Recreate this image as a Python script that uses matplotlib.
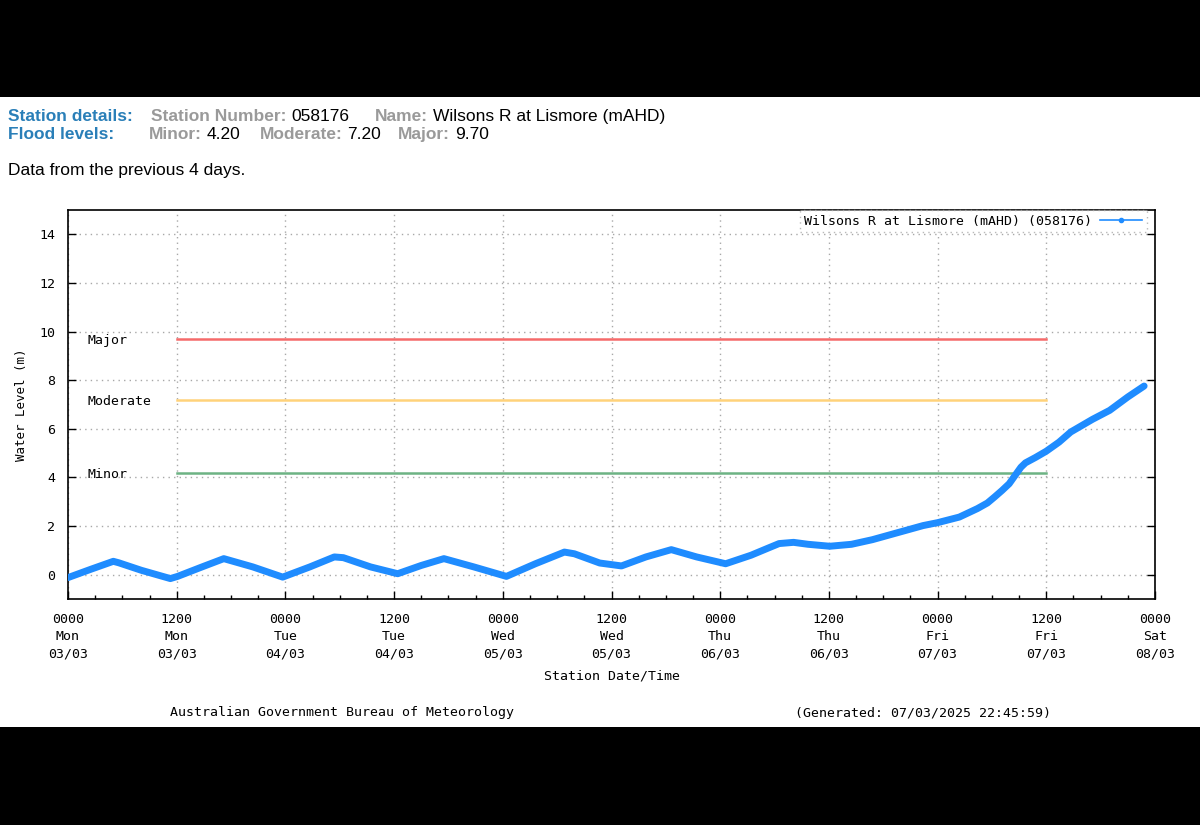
import numpy as np
import matplotlib
matplotlib.use("Agg")
import matplotlib.pyplot as plt
from matplotlib.patches import Rectangle
from matplotlib.ticker import MultipleLocator

# hours since 0000 Mon 03/03 and water level (m)
hours = [0.0, 2.5, 5.0, 5.6, 8.1, 11.3, 12.1, 14.8, 17.2, 20.4, 23.7, 26.7,
         29.4, 30.4, 33.4, 36.4, 39.0, 41.5, 44.8, 48.4, 51.6, 54.8, 55.9,
         58.7, 61.1, 63.8, 66.6, 69.4, 72.6, 75.4, 77.2, 78.5, 80.1, 81.7,
         84.1, 86.5, 88.8, 91.6, 94.4, 96.0, 98.4, 100.4, 101.5, 102.3,
         103.1, 103.9, 104.7, 105.2, 105.7, 106.8, 108.0, 109.4, 110.7,
         113.1, 115.0, 117.0, 118.8]
level = [-0.12, 0.22, 0.55, 0.49, 0.18, -0.16, -0.07, 0.32, 0.66, 0.32, -0.10,
         0.32, 0.73, 0.70, 0.32, 0.04, 0.38, 0.66, 0.32, -0.07, 0.45, 0.93,
         0.86, 0.48, 0.36, 0.73, 1.03, 0.73, 0.45, 0.80, 1.08, 1.28, 1.33,
         1.25, 1.17, 1.25, 1.44, 1.73, 2.02, 2.14, 2.37, 2.72, 2.95, 3.20,
         3.46, 3.74, 4.16, 4.42, 4.60, 4.82, 5.08, 5.45, 5.87, 6.39, 6.76,
         7.31, 7.76]

flood_names = ["Major", "Moderate", "Minor"]
flood_levels = [9.70, 7.20, 4.20]
flood_colors = ["#f56a6a", "#ffd27a", "#6db384"]
flood_span = [12, 108]

tick_hours = list(range(0, 121, 12))
tick_labels = ["0000\nMon\n03/03", "1200\nMon\n03/03", "0000\nTue\n04/03",
               "1200\nTue\n04/03", "0000\nWed\n05/03", "1200\nWed\n05/03",
               "0000\nThu\n06/03", "1200\nThu\n06/03", "0000\nFri\n07/03",
               "1200\nFri\n07/03", "0000\nSat\n08/03"]

W, H = 1200, 825
mono = "DejaVu Sans Mono"
sans = "Liberation Sans"
blue_hdr = "#2a7fb8"
grey_hdr = "#9a9a9a"
hfs = 12.5

fig = plt.figure(figsize=(W/100, H/100), dpi=100)
fig.patch.set_facecolor("white")
fig.patches.append(Rectangle((0, 1-97/H), 1, 97/H, transform=fig.transFigure,
                             facecolor="black", edgecolor="none"))
fig.patches.append(Rectangle((0, 0), 1, (H-727)/H, transform=fig.transFigure,
                             facecolor="black", edgecolor="none"))

def ftext(px, py, s, **kw):
    return fig.text(px/W, 1-py/H, s, va="baseline", **kw)

def pair(px, py, label, value):
    # grey bold label followed by its black value
    t = ftext(px, py, label, color=grey_hdr, fontsize=hfs, fontweight="bold", family=sans)
    fig.text(0, 0, "", transform=fig.transFigure)
    ann = plt.annotate(value, xy=(1, 0), xycoords=t, xytext=(3.5, 0),
                       textcoords="offset points", va="bottom", ha="left",
                       color="black", fontsize=hfs, family=sans,
                       annotation_clip=False)
    return ann

# header
ftext(8, 121, "Station details:", color=blue_hdr, fontsize=hfs, fontweight="bold", family=sans)
ftext(8, 139, "Flood levels:", color=blue_hdr, fontsize=hfs, fontweight="bold", family=sans)
ftext(8, 175, "Data from the previous 4 days.", color="black", fontsize=hfs, family=sans)

# plot area
ax = fig.add_axes([68/W, 1-599/H, (1155-68)/W, (599-210)/H])
ax.set_xlim(0, 120)
ax.set_ylim(-1, 15)

pair(151, 121, "Station Number:", "058176")
pair(375, 121, "Name:", "Wilsons R at Lismore (mAHD)")
pair(149, 139, "Minor:", "4.20")
pair(260, 139, "Moderate:", "7.20")
pair(398, 139, "Major:", "9.70")

for name, lev, col in zip(flood_names, flood_levels, flood_colors):
    ax.plot(flood_span, [lev, lev], color=col, lw=1.8, zorder=3)
    ax.text(2.2, lev - 0.08, name, family=mono, fontsize=9.5, va="center", ha="left",
            color="black", zorder=4)

ax.plot(hours, level, color="#1f8cff", lw=5, solid_capstyle="round",
        solid_joinstyle="round", zorder=5)
ax.plot([], [], color="#1f8cff", lw=1.2, marker="o", ms=3,
        label="Wilsons R at Lismore (mAHD) (058176)")

ax.set_xticks(tick_hours)
ax.set_xticklabels(tick_labels, family=mono, fontsize=9.5, linespacing=1.45)
ax.xaxis.set_minor_locator(MultipleLocator(3))
ax.set_yticks(range(0, 15, 2))
ax.set_yticklabels([str(v) for v in range(0, 15, 2)], family=mono, fontsize=9.5)
ax.tick_params(which="both", direction="in", top=False, right=True)
ax.tick_params(which="major", length=6, width=1)
ax.tick_params(which="minor", length=3, width=1)
ax.tick_params(axis="x", pad=10)
ax.tick_params(axis="y", pad=9)
ax.grid(True, which="major", color="#a8a8a8", lw=1, ls=(0, (1, 3)))
for s in ax.spines.values():
    s.set_linewidth(1.2)

ax.set_xlabel("Station Date/Time", family=mono, fontsize=9.5, labelpad=6)
ax.set_ylabel("Water Level (m)", family=mono, fontsize=9, labelpad=8)

leg = ax.legend(loc="upper right", bbox_to_anchor=((1147-68)/(1155-68), 1.0),
                prop={"family": mono, "size": 9.5},
                frameon=True, fancybox=False, borderpad=0.35, handlelength=3.2,
                handletextpad=0.6, markerfirst=False, borderaxespad=0)
leg.get_frame().set_edgecolor("#a8a8a8")
leg.get_frame().set_linestyle((0, (1, 3)))
leg.get_frame().set_linewidth(1)

# footer
ftext(170, 716, "Australian Government Bureau of Meteorology", family=mono, fontsize=9.5)
ftext(795, 716, "(Generated: 07/03/2025 22:45:59)", family=mono, fontsize=9.5)

fig.savefig("out.png", dpi=100, facecolor=fig.get_facecolor())
